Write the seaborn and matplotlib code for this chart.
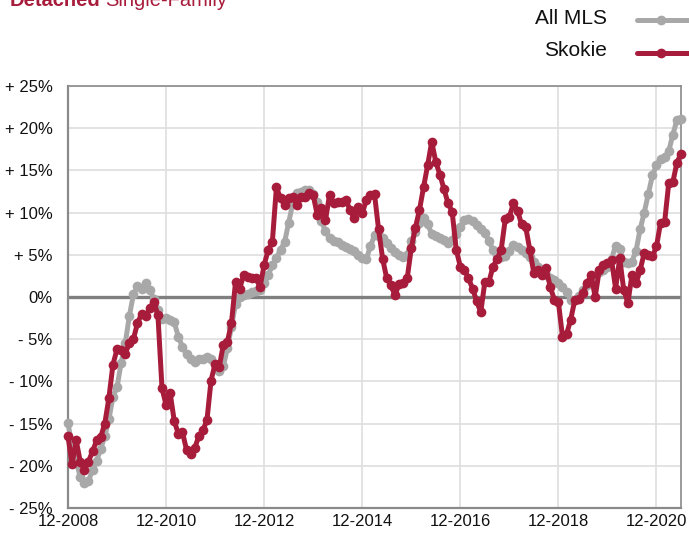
import numpy as np
import pandas as pd
import matplotlib
matplotlib.use("Agg")
import matplotlib.pyplot as plt
from matplotlib.lines import Line2D
import seaborn as sns

# Year-over-year change in median sales price, monthly from 12-2008 to 6-2021
skokie = [
    -16.5, -19.8, -17.0, -19.5, -20.5, -19.5, -18.3, -17.0, -16.6, -15.0,
    -12.0, -8.0, -6.2, -6.3, -6.7, -5.5, -5.0, -3.1, -2.0, -2.3,
    -1.3, -0.6, -2.1, -10.8, -12.8, -11.4, -14.7, -16.2, -16.0, -18.1,
    -18.6, -17.9, -16.5, -15.8, -14.6, -9.9, -7.9, -8.3, -5.7, -5.3,
    -3.1, 1.8, 1.0, 2.6, 2.4, 2.2, 2.2, 1.2, 3.8, 5.6,
    6.5, 13.0, 11.7, 10.9, 11.7, 11.9, 10.9, 11.9, 11.9, 12.3,
    12.1, 9.7, 10.5, 9.1, 12.1, 11.1, 11.3, 11.2, 11.5, 10.3,
    9.4, 10.7, 9.9, 11.5, 12.1, 12.2, 8.0, 4.5, 2.2, 1.4,
    0.2, 1.5, 1.6, 2.2, 5.8, 8.2, 10.3, 13.0, 15.6, 18.4,
    16.0, 14.5, 12.8, 11.1, 10.1, 5.6, 3.6, 3.2, 2.2, 1.0,
    -0.5, -1.8, 1.8, 1.8, 3.6, 4.5, 5.6, 9.2, 9.5, 11.1,
    10.2, 8.6, 8.3, 5.6, 2.8, 3.2, 2.6, 3.4, 1.2, -0.3,
    -0.6, -4.7, -4.4, -2.7, -0.4, -0.2, 0.5, 1.6, 2.6, 0.0,
    3.2, 3.8, 4.0, 4.4, 1.0, 4.6, 0.8, -0.7, 2.6, 1.6,
    3.2, 5.2, 5.0, 4.8, 6.0, 8.8, 8.9, 13.5, 13.6, 15.9,
    17.0,
]

all_mls = [
    -14.9, -17.8, -19.5, -21.3, -22.0, -21.8, -20.5, -19.4, -18.0, -16.5,
    -14.5, -11.8, -10.7, -7.8, -5.5, -2.3, 0.3, 1.3, 1.0, 1.6,
    0.8, -0.2, -1.5, -2.6, -2.5, -2.7, -3.0, -4.7, -5.9, -6.8,
    -7.3, -7.7, -7.4, -7.3, -7.1, -7.4, -7.9, -8.8, -8.2, -6.1,
    -3.5, -0.8, 0.0, 0.2, 0.4, 0.6, 0.7, 0.8, 1.6, 2.6,
    3.8, 4.6, 5.6, 6.5, 8.8, 11.1, 12.3, 12.5, 12.7, 12.7,
    12.2, 11.3, 9.0, 7.8, 7.0, 6.6, 6.5, 6.2, 5.9, 5.7,
    5.4, 5.0, 4.6, 4.5, 6.0, 7.3, 7.2, 7.0, 6.4, 5.8,
    5.3, 5.0, 4.7, 5.0, 6.6, 7.7, 8.8, 9.4, 8.6, 7.5,
    7.2, 7.0, 6.7, 6.4, 6.8, 7.5, 8.3, 9.1, 9.2, 9.0,
    8.5, 8.0, 7.6, 6.6, 5.6, 5.0, 4.7, 4.9, 5.5, 6.2,
    5.9, 5.6, 5.2, 4.7, 4.2, 3.6, 3.1, 2.6, 2.3, 2.0,
    1.7, 1.2, 0.6, -0.3, -0.3, 0.1, 0.8, 1.4, 1.9, 2.5,
    3.0, 3.2, 3.5, 4.5, 6.1, 5.7, 4.2, 4.0, 4.2, 5.5,
    8.0, 10.0, 12.2, 14.4, 15.6, 16.4, 16.6, 17.3, 19.2, 21.0,
    21.1,
]

x_tick_labels = ["12-2008", "12-2010", "12-2012", "12-2014",
                 "12-2016", "12-2018", "12-2020"]
y_tick_values = [25, 20, 15, 10, 5, 0, -5, -10, -15, -20, -25]
y_tick_labels = ["+ 25%", "+ 20%", "+ 15%", "+ 10%", "+ 5%", "0%",
                 "- 5%", "- 10%", "- 15%", "- 20%", "- 25%"]
series_names = ["All MLS", "Skokie"]

RED = "#A81C3B"
GRAY = "#A8A8A8"
FRAME = "#8A8A8A"
LW = 3.6
MS = 7.0

sns.set_theme(style="white")
plt.rcParams["font.family"] = ["Liberation Sans", "DejaVu Sans"]

months = np.arange(len(skokie))
df = pd.DataFrame({
    "month": np.concatenate([months, months]),
    "change": all_mls + skokie,
    "series": [series_names[0]] * len(all_mls) + [series_names[1]] * len(skokie),
})

fig = plt.figure(figsize=(6.89, 5.35), dpi=100)
ax = fig.add_axes([68 / 689, 1 - 508 / 535, (681 - 68) / 689, (508 - 86) / 535])

sns.lineplot(data=df, x="month", y="change", hue="series",
             palette={series_names[0]: GRAY, series_names[1]: RED},
             hue_order=series_names, marker="o", markersize=MS,
             markeredgewidth=0, linewidth=LW, legend=False, ax=ax,
             clip_on=False, zorder=3)

ax.set_xlim(0, len(skokie) - 1)
ax.set_ylim(-25, 25)
ax.set_xticks(np.arange(0, len(skokie), 24))
ax.set_xticklabels(x_tick_labels, fontsize=12, color="#111111")
ax.set_yticks(y_tick_values)
ax.set_yticklabels(y_tick_labels, fontsize=12, color="#111111")
ax.tick_params(axis="x", length=0, pad=4)
ax.tick_params(axis="y", length=0, pad=11)
ax.set_xlabel("")
ax.set_ylabel("")

ax.grid(True, color="#DEDEDE", linewidth=1.2)
ax.set_axisbelow(True)
ax.axhline(0, color="#7F7F7F", linewidth=2.4, zorder=2)
for side in ["left", "bottom", "top", "right"]:
    ax.spines[side].set_visible(True)
    ax.spines[side].set_color(FRAME)
    ax.spines[side].set_linewidth(1.2)
ax.spines["left"].set_linewidth(1.6)
ax.spines["bottom"].set_linewidth(1.6)

# Title (runs off the top edge of the canvas)
fig.text(10 / 689, 1 - 6 / 535, "Detached", fontsize=14.5, fontweight="bold",
         color=RED, ha="left", va="baseline")
fig.text(105 / 689, 1 - 6 / 535, "Single-Family", fontsize=14.5,
         color=RED, ha="left", va="baseline")

# Legend in the top-right corner
for name, color, ty, ly in [(series_names[0], GRAY, 18, 20),
                            (series_names[1], RED, 50, 53)]:
    fig.text(607 / 689, 1 - ty / 535, name, fontsize=15, color="#111111",
             ha="right", va="center")
    fig.add_artist(Line2D([637 / 689, 700 / 689], [1 - ly / 535, 1 - ly / 535],
                          transform=fig.transFigure, color=color, linewidth=LW,
                          solid_capstyle="round", clip_on=False))
    fig.add_artist(Line2D([661 / 689], [1 - ly / 535], transform=fig.transFigure,
                          color=color, marker="o", markersize=MS,
                          markeredgewidth=0, linestyle="none", clip_on=False))

fig.savefig("out.png", dpi=100)
